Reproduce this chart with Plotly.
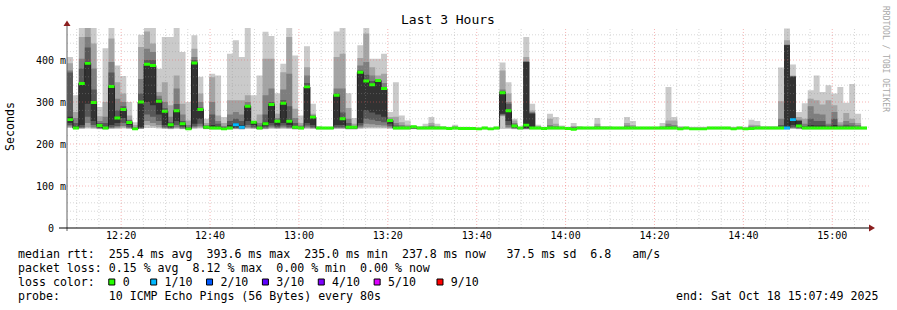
import pandas as pd
import plotly.graph_objects as go

# ---------------- data (milliseconds), one value per 80 s step ----------------
start = pd.Timestamp("2025-10-18 12:07:49")
end = pd.Timestamp("2025-10-18 15:07:49")
step_s = 80

ping10 = [407, 316, 480, 480, 480, 288, 428, 480, 387, 362,
          300, 252, 460, 480, 480, 379, 455, 455, 480, 419,
          300, 459, 360, 260, 367, 363, 264, 415, 447, 407,
          480, 316, 363, 467, 457, 321, 391, 480, 411, 268,
          433, 296, 243, 240, 240, 468, 480, 321, 262, 435,
          480, 403, 403, 415, 276, 347, 268, 256, 244, 243,
          248, 264, 248, 243, 241, 246, 241, 241, 240, 239,
          241, 239, 241, 394, 347, 260, 241, 455, 296, 246,
          241, 272, 264, 244, 241, 250, 243, 241, 241, 262,
          243, 243, 241, 241, 264, 255, 241, 241, 241, 241,
          250, 336, 264, 243, 241, 241, 241, 241, 241, 241,
          241, 241, 241, 241, 241, 258, 255, 243, 243, 243,
          382, 475, 389, 276, 297, 328, 363, 324, 340, 320,
          336, 298, 343, 272, 241]
ping9 = [392, 276, 455, 480, 439, 266, 300, 451, 347, 320,
         268, 245, 431, 468, 439, 324, 347, 292, 363, 296,
         256, 427, 320, 250, 359, 268, 250, 304, 304, 304,
         316, 254, 270, 403, 403, 272, 371, 455, 284, 250,
         383, 272, 240, 239, 239, 407, 415, 286, 248, 405,
         463, 383, 363, 367, 264, 265, 252, 246, 242, 240,
         243, 250, 243, 240, 239, 242, 239, 239, 238, 237,
         239, 237, 239, 375, 320, 256, 239, 407, 280, 242,
         239, 260, 248, 241, 239, 243, 240, 239, 239, 248,
         240, 240, 239, 239, 250, 245, 239, 239, 239, 239,
         243, 256, 256, 240, 239, 239, 239, 239, 239, 239,
         239, 239, 239, 239, 239, 246, 245, 240, 240, 240,
         302, 447, 363, 264, 260, 308, 304, 294, 304, 292,
         252, 274, 260, 250, 239]
ping8 = [375, 262, 403, 455, 380, 255, 265, 395, 308, 300,
         258, 240, 355, 427, 419, 315, 300, 265, 332, 270,
         245, 407, 300, 245, 300, 255, 243, 270, 276, 270,
         300, 253, 250, 316, 332, 262, 330, 367, 262, 244,
         363, 268, 239, 238, 238, 332, 332, 260, 243, 387,
         395, 363, 355, 345, 260, 250, 245, 242, 241, 239,
         240, 244, 240, 239, 238, 240, 238, 238, 237, 236,
         238, 236, 238, 330, 300, 250, 238, 397, 276, 240,
         238, 245, 243, 239, 238, 240, 239, 238, 238, 243,
         239, 239, 238, 238, 244, 241, 238, 238, 238, 238,
         240, 248, 245, 239, 238, 238, 238, 238, 238, 238,
         238, 238, 238, 238, 238, 242, 241, 239, 239, 239,
         260, 437, 362, 258, 248, 290, 272, 270, 248, 276,
         246, 255, 250, 245, 238]
ping7 = [370, 250, 380, 430, 330, 250, 250, 370, 280, 290,
         256, 238, 320, 400, 400, 308, 285, 252, 295, 255,
         240, 400, 287, 242, 270, 248, 240, 255, 260, 255,
         292, 253, 244, 270, 300, 258, 305, 290, 250, 241,
         345, 267, 238, 238, 238, 320, 275, 250, 241, 375,
         365, 350, 353, 336, 258, 244, 241, 240, 241, 238,
         239, 241, 239, 238, 238, 239, 238, 238, 237, 236,
         238, 236, 238, 325, 296, 246, 238, 396, 274, 239,
         238, 241, 240, 238, 238, 239, 238, 238, 238, 240,
         238, 238, 238, 238, 241, 239, 238, 238, 238, 238,
         239, 243, 241, 238, 238, 238, 238, 238, 238, 238,
         238, 238, 238, 238, 238, 240, 239, 238, 238, 238,
         245, 436, 361, 256, 243, 260, 255, 255, 244, 260,
         242, 246, 244, 241, 238]
ping6 = [265, 242, 346, 395, 302, 247, 240, 340, 265, 285,
         254, 237, 303, 392, 389, 304, 280, 248, 281, 250,
         238, 395, 284, 241, 245, 242, 238, 245, 250, 245,
         291, 253, 240, 252, 296, 256, 299, 258, 243, 239,
         338, 266, 238, 238, 238, 318, 262, 243, 240, 373,
         352, 343, 353, 334, 257, 240, 239, 239, 241, 238,
         238, 239, 238, 238, 238, 238, 238, 238, 237, 236,
         238, 236, 238, 323, 281, 245, 238, 395, 272, 238,
         238, 239, 239, 238, 238, 238, 238, 238, 238, 239,
         238, 238, 238, 238, 239, 238, 238, 238, 238, 238,
         238, 240, 239, 238, 238, 238, 238, 238, 238, 238,
         238, 238, 238, 238, 238, 239, 238, 238, 238, 238,
         240, 435, 360, 255, 240, 245, 244, 244, 241, 245,
         240, 241, 240, 239, 238]
ping5 = [250, 237, 245, 296, 255, 240, 237, 245, 250, 262,
         245, 236, 240, 300, 292, 270, 245, 240, 255, 242,
         236, 248, 260, 238, 237, 237, 236, 237, 240, 238,
         255, 245, 237, 242, 250, 244, 250, 245, 238, 237,
         250, 245, 237, 237, 237, 245, 245, 238, 238, 250,
         280, 275, 270, 265, 248, 237, 237, 237, 239, 237,
         237, 237, 237, 237, 237, 237, 237, 237, 236, 235,
         237, 235, 237, 272, 255, 240, 237, 238, 237, 237,
         237, 237, 237, 237, 237, 235, 237, 237, 237, 237,
         237, 237, 237, 237, 237, 237, 237, 237, 237, 237,
         237, 237, 237, 236, 237, 236, 236, 236, 237, 237,
         237, 237, 236, 237, 236, 236, 237, 237, 237, 237,
         237, 237, 245, 240, 237, 237, 237, 237, 237, 237,
         237, 237, 237, 237, 237]
ping4 = [245, 236, 240, 265, 245, 238, 236, 240, 243, 250,
         240, 235, 238, 270, 265, 255, 240, 238, 245, 239,
         235, 242, 248, 237, 236, 236, 235, 236, 238, 237,
         245, 240, 236, 239, 244, 240, 244, 240, 237, 236,
         244, 240, 236, 236, 236, 240, 240, 237, 237, 244,
         260, 258, 255, 252, 243, 236, 236, 236, 237, 236,
         236, 236, 236, 236, 236, 236, 236, 236, 236, 235,
         236, 235, 236, 270, 245, 238, 236, 237, 236, 236,
         236, 236, 236, 236, 236, 235, 236, 236, 236, 236,
         236, 236, 236, 236, 236, 236, 236, 236, 236, 236,
         236, 236, 236, 236, 236, 236, 236, 236, 236, 236,
         236, 236, 236, 236, 236, 236, 236, 236, 236, 236,
         236, 236, 240, 238, 236, 236, 236, 236, 236, 236,
         236, 236, 236, 236, 236]
ping3 = [242, 236, 238, 250, 240, 237, 236, 238, 240, 243,
         238, 235, 237, 255, 250, 245, 238, 237, 240, 237,
         235, 240, 242, 236, 236, 236, 235, 236, 237, 236,
         240, 238, 236, 237, 240, 238, 240, 238, 236, 236,
         240, 238, 236, 236, 236, 238, 238, 236, 236, 240,
         248, 247, 245, 244, 240, 236, 236, 236, 236, 236,
         236, 236, 236, 236, 236, 236, 236, 236, 236, 235,
         236, 235, 236, 268, 240, 237, 236, 236, 236, 236,
         236, 236, 236, 236, 236, 235, 236, 236, 236, 236,
         236, 236, 236, 236, 236, 236, 236, 236, 236, 236,
         236, 236, 236, 236, 236, 236, 236, 236, 236, 236,
         236, 236, 236, 236, 236, 236, 236, 236, 236, 236,
         236, 236, 238, 237, 236, 236, 236, 236, 236, 236,
         236, 236, 236, 236, 236]
ping2 = [240, 236, 237, 240, 238, 236, 235, 237, 238, 239,
         237, 235, 236, 245, 242, 240, 237, 236, 238, 236,
         235, 238, 239, 236, 235, 235, 235, 235, 236, 235,
         238, 237, 235, 236, 238, 237, 238, 237, 235, 235,
         238, 237, 235, 235, 235, 237, 237, 235, 235, 238,
         240, 240, 240, 239, 238, 235, 235, 235, 236, 235,
         235, 235, 235, 235, 235, 235, 235, 235, 235, 235,
         235, 235, 235, 266, 238, 236, 235, 235, 235, 235,
         235, 235, 235, 235, 235, 235, 235, 235, 235, 235,
         235, 235, 235, 235, 235, 235, 235, 235, 235, 235,
         235, 235, 235, 235, 235, 235, 235, 235, 235, 235,
         235, 235, 235, 235, 235, 235, 235, 235, 235, 235,
         235, 235, 237, 236, 235, 235, 235, 235, 235, 235,
         235, 235, 235, 235, 235]
ping1 = [238, 235, 236, 237, 236, 235, 235, 236, 236, 237,
         236, 235, 236, 238, 238, 237, 236, 235, 236, 235,
         235, 236, 237, 235, 235, 235, 235, 235, 235, 235,
         236, 236, 235, 235, 236, 236, 236, 236, 235, 235,
         236, 236, 235, 235, 235, 236, 236, 235, 235, 236,
         237, 237, 237, 237, 236, 235, 235, 235, 235, 235,
         235, 235, 235, 235, 235, 235, 235, 235, 235, 235,
         235, 235, 235, 236, 236, 235, 235, 235, 235, 235,
         235, 235, 235, 235, 235, 235, 235, 235, 235, 235,
         235, 235, 235, 235, 235, 235, 235, 235, 235, 235,
         235, 235, 235, 235, 235, 235, 235, 235, 235, 235,
         235, 235, 235, 235, 235, 235, 235, 235, 235, 235,
         235, 235, 236, 235, 235, 235, 235, 235, 235, 235,
         235, 235, 235, 235, 235]
median = [258, 238, 344, 392, 299, 244, 238, 337, 262, 282,
          251, 236, 300, 390, 387, 302, 278, 246, 279, 248,
          236, 393, 282, 240, 238, 238, 236, 238, 246, 240,
          290, 252, 238, 248, 294, 254, 297, 254, 240, 238,
          336, 264, 238, 238, 238, 316, 260, 240, 240, 371,
          350, 341, 351, 332, 256, 238, 238, 238, 241, 238,
          238, 238, 238, 238, 237, 238, 237, 237, 237, 236,
          238, 236, 238, 322, 279, 243, 238, 245, 238, 238,
          237, 238, 238, 238, 237, 235, 238, 238, 238, 238,
          238, 238, 238, 238, 238, 238, 238, 238, 238, 238,
          238, 238, 238, 236, 238, 236, 236, 236, 238, 238,
          238, 238, 236, 238, 236, 237, 238, 238, 238, 238,
          238, 238, 258, 243, 238, 238, 238, 238, 238, 238,
          238, 238, 238, 238, 238]
# lost pings per step (out of 10)
loss = [0, 0, 0, 0, 0, 0, 0, 0, 0, 0,
        0, 0, 0, 0, 0, 0, 0, 0, 0, 0,
        0, 0, 0, 0, 0, 0, 0, 0, 1, 1,
        0, 0, 0, 0, 0, 0, 0, 0, 0, 0,
        0, 0, 0, 0, 0, 0, 0, 0, 0, 0,
        0, 0, 0, 0, 0, 0, 0, 0, 0, 0,
        0, 0, 0, 0, 0, 0, 0, 0, 0, 0,
        0, 0, 0, 0, 0, 0, 0, 0, 0, 0,
        0, 0, 0, 0, 0, 0, 0, 0, 0, 0,
        0, 0, 0, 0, 0, 0, 0, 0, 0, 0,
        0, 0, 0, 0, 0, 0, 0, 0, 0, 0,
        0, 0, 0, 0, 0, 0, 0, 0, 0, 0,
        0, 1, 1, 0, 0, 0, 0, 0, 0, 0,
        0, 0, 0, 0, 0]

loss_labels = ["0", "1/10", "2/10", "3/10", "4/10", "5/10", "9/10"]
loss_colors = ["#26ff00", "#00b8ff", "#0059ff", "#5e00ff", "#7e00ff", "#dd00ff", "#ff0000"]
y_tick_vals = [0, 100, 200, 300, 400]
y_tick_text = ["0\u00a0\u00a0", "100 m", "200 m", "300 m", "400 m"]

stat_line1 = "median rtt:  255.4 ms avg  393.6 ms max  235.0 ms min  237.8 ms now   37.5 ms sd  6.8   am/s"
stat_line2 = "packet loss: 0.15 % avg  8.12 % max  0.00 % min  0.00 % now"
probe_line = "probe:       10 ICMP Echo Pings (56 Bytes) every 80s"
end_line = "end: Sat Oct 18 15:07:49 2025"

# ---------------- geometry helpers (pixel -> paper) ----------------
L, R, T, B = 67, 30, 28, 82
W, H = 897, 310
PW, PH = W - L - R, H - T - B


def px(x):
    return (x - L) / PW


def py(y):
    return (H - B - y) / PH


n = len(median)
x_edges = [start + pd.Timedelta(seconds=step_s * k) for k in range(n + 1)]

fig = go.Figure()

# smoke: stacked grey bands between ping i and ping (11-i), rrdtool-like step areas
bands = [(ping1, ping10, "#cacaca"), (ping2, ping9, "#a4a4a4"),
         (ping3, ping8, "#7e7e7e"), (ping4, ping7, "#585858"),
         (ping5, ping6, "#323232")]
for lo, hi, col in bands:
    fig.add_trace(go.Scatter(x=x_edges, y=lo + [lo[-1]], mode="lines",
                             line=dict(width=0, shape="hv"), hoverinfo="skip"))
    fig.add_trace(go.Scatter(x=x_edges, y=hi + [hi[-1]], mode="lines", fill="tonexty",
                             fillcolor=col, line=dict(width=0, shape="hv"),
                             hoverinfo="skip"))

# median line
fig.add_trace(go.Scatter(x=x_edges, y=median + [median[-1]], mode="lines",
                         line=dict(color="#202020", width=1, shape="hv"),
                         hoverinfo="skip"))

# median marks coloured by loss
half = 3.5
for li, col in enumerate(loss_colors):
    xs, ys = [], []
    for k in range(n):
        if loss[k] != li:
            continue
        a, b = x_edges[k], x_edges[k + 1]
        lo, hi = median[k] - half, median[k] + half
        xs += [a, b, b, a, a, None]
        ys += [lo, lo, hi, hi, lo, None]
    if xs:
        fig.add_trace(go.Scatter(x=xs, y=ys, mode="lines", fill="toself",
                                 fillcolor=col, line=dict(width=0),
                                 hoverinfo="skip"))

# ---------------- grid (drawn over the data, like rrdtool) ----------------
shapes = []
g_minor = "rgba(150,150,150,0.38)"
g_major = "rgba(235,90,90,0.45)"
t = pd.Timestamp("2025-10-18 12:10:00")
while t < end:
    major = t.minute % 20 == 0
    shapes.append(dict(type="line", xref="x", yref="paper", x0=t, x1=t, y0=0, y1=1,
                       layer="above",
                       line=dict(color=g_major if major else g_minor, width=1, dash="1px,2px")))
    t += pd.Timedelta(minutes=5)
for v in range(20, 477, 20):
    major = v % 100 == 0
    shapes.append(dict(type="line", xref="paper", yref="y", x0=0, x1=1.003, y0=v, y1=v,
                       layer="above",
                       line=dict(color=g_major if major else g_minor, width=1, dash="1px,2px")))

# axes + arrows
shapes.append(dict(type="line", xref="paper", yref="paper", x0=px(67), x1=px(67),
                   y0=py(231), y1=py(24), layer="above", line=dict(color="#606060", width=1)))
shapes.append(dict(type="line", xref="paper", yref="paper", x0=px(59), x1=px(870),
                   y0=py(228), y1=py(228), layer="above", line=dict(color="black", width=1)))
arrow_col = "#8b1e1e"
shapes.append(dict(type="path", xref="paper", yref="paper", layer="above",
                   path=f"M {px(63.5)},{py(26)} L {px(70.5)},{py(26)} L {px(67)},{py(20.5)} Z",
                   fillcolor=arrow_col, line=dict(width=0)))
shapes.append(dict(type="path", xref="paper", yref="paper", layer="above",
                   path=f"M {px(869)},{py(224.5)} L {px(869)},{py(231.5)} L {px(875)},{py(228)} Z",
                   fillcolor=arrow_col, line=dict(width=0)))

# ---------------- text ----------------
mono = "DejaVu Sans Mono"
fs = 11.6
cw = fs * 0.602
nb = lambda s: s.replace(" ", "\u00a0")

loss_line = "loss color:  "
box_chars = []
gaps = [3, 2, 2, 2, 2, 3, 0]
for lab, g in zip(loss_labels, gaps):
    box_chars.append(len(loss_line))
    loss_line += "  " + lab + " " * g

x_text = 16
for c, col in zip(box_chars, loss_colors):
    x0 = x_text + cw * c + 2
    shapes.append(dict(type="rect", xref="paper", yref="paper", layer="above",
                       x0=px(x0), x1=px(x0 + 6), y0=py(285), y1=py(279),
                       fillcolor=col, line=dict(color="black", width=1)))

annotations = [
    dict(text="Last 3 Hours", x=px(448), y=py(19), font=dict(family=mono, size=13)),
    dict(text="Seconds", x=px(10), y=py(127), textangle=-90, font=dict(family=mono, size=fs)),
    dict(text=nb("RRDTOOL / TOBI OETIKER"), x=px(886), y=py(59), textangle=90,
         font=dict(family=mono, size=8, color="#a8a8a8")),
]
for txt, yy in [(stat_line1, 254), (stat_line2, 268), (loss_line, 282), (probe_line, 296)]:
    annotations.append(dict(text=nb(txt), x=px(x_text), y=py(yy), xanchor="left",
                            font=dict(family=mono, size=fs)))
annotations.append(dict(text=nb(end_line), x=px(880), y=py(296), xanchor="right",
                        font=dict(family=mono, size=fs)))
for a in annotations:
    a.update(xref="paper", yref="paper", showarrow=False)
    a.setdefault("xanchor", "center")
    a.setdefault("yanchor", "middle")

fig.update_layout(
    width=W, height=H, margin=dict(l=L, r=R, t=T, b=B),
    paper_bgcolor="white", plot_bgcolor="white", showlegend=False,
    font=dict(family=mono, size=10, color="black"),
    shapes=shapes, annotations=annotations,
)
fig.update_xaxes(type="date", range=[start, end], tickformat="%H:%M", dtick=20 * 60 * 1000,
                 tick0="2025-10-18 12:00:00", showgrid=False, zeroline=False, showline=False,
                 ticks="", tickfont=dict(family=mono, size=10))
fig.update_yaxes(range=[0, 476.2], tickvals=y_tick_vals, ticktext=y_tick_text,
                 showgrid=False, zeroline=False, showline=False, ticks="",
                 tickfont=dict(family=mono, size=10))

fig.write_html("out.html", config={"displayModeBar": False})
